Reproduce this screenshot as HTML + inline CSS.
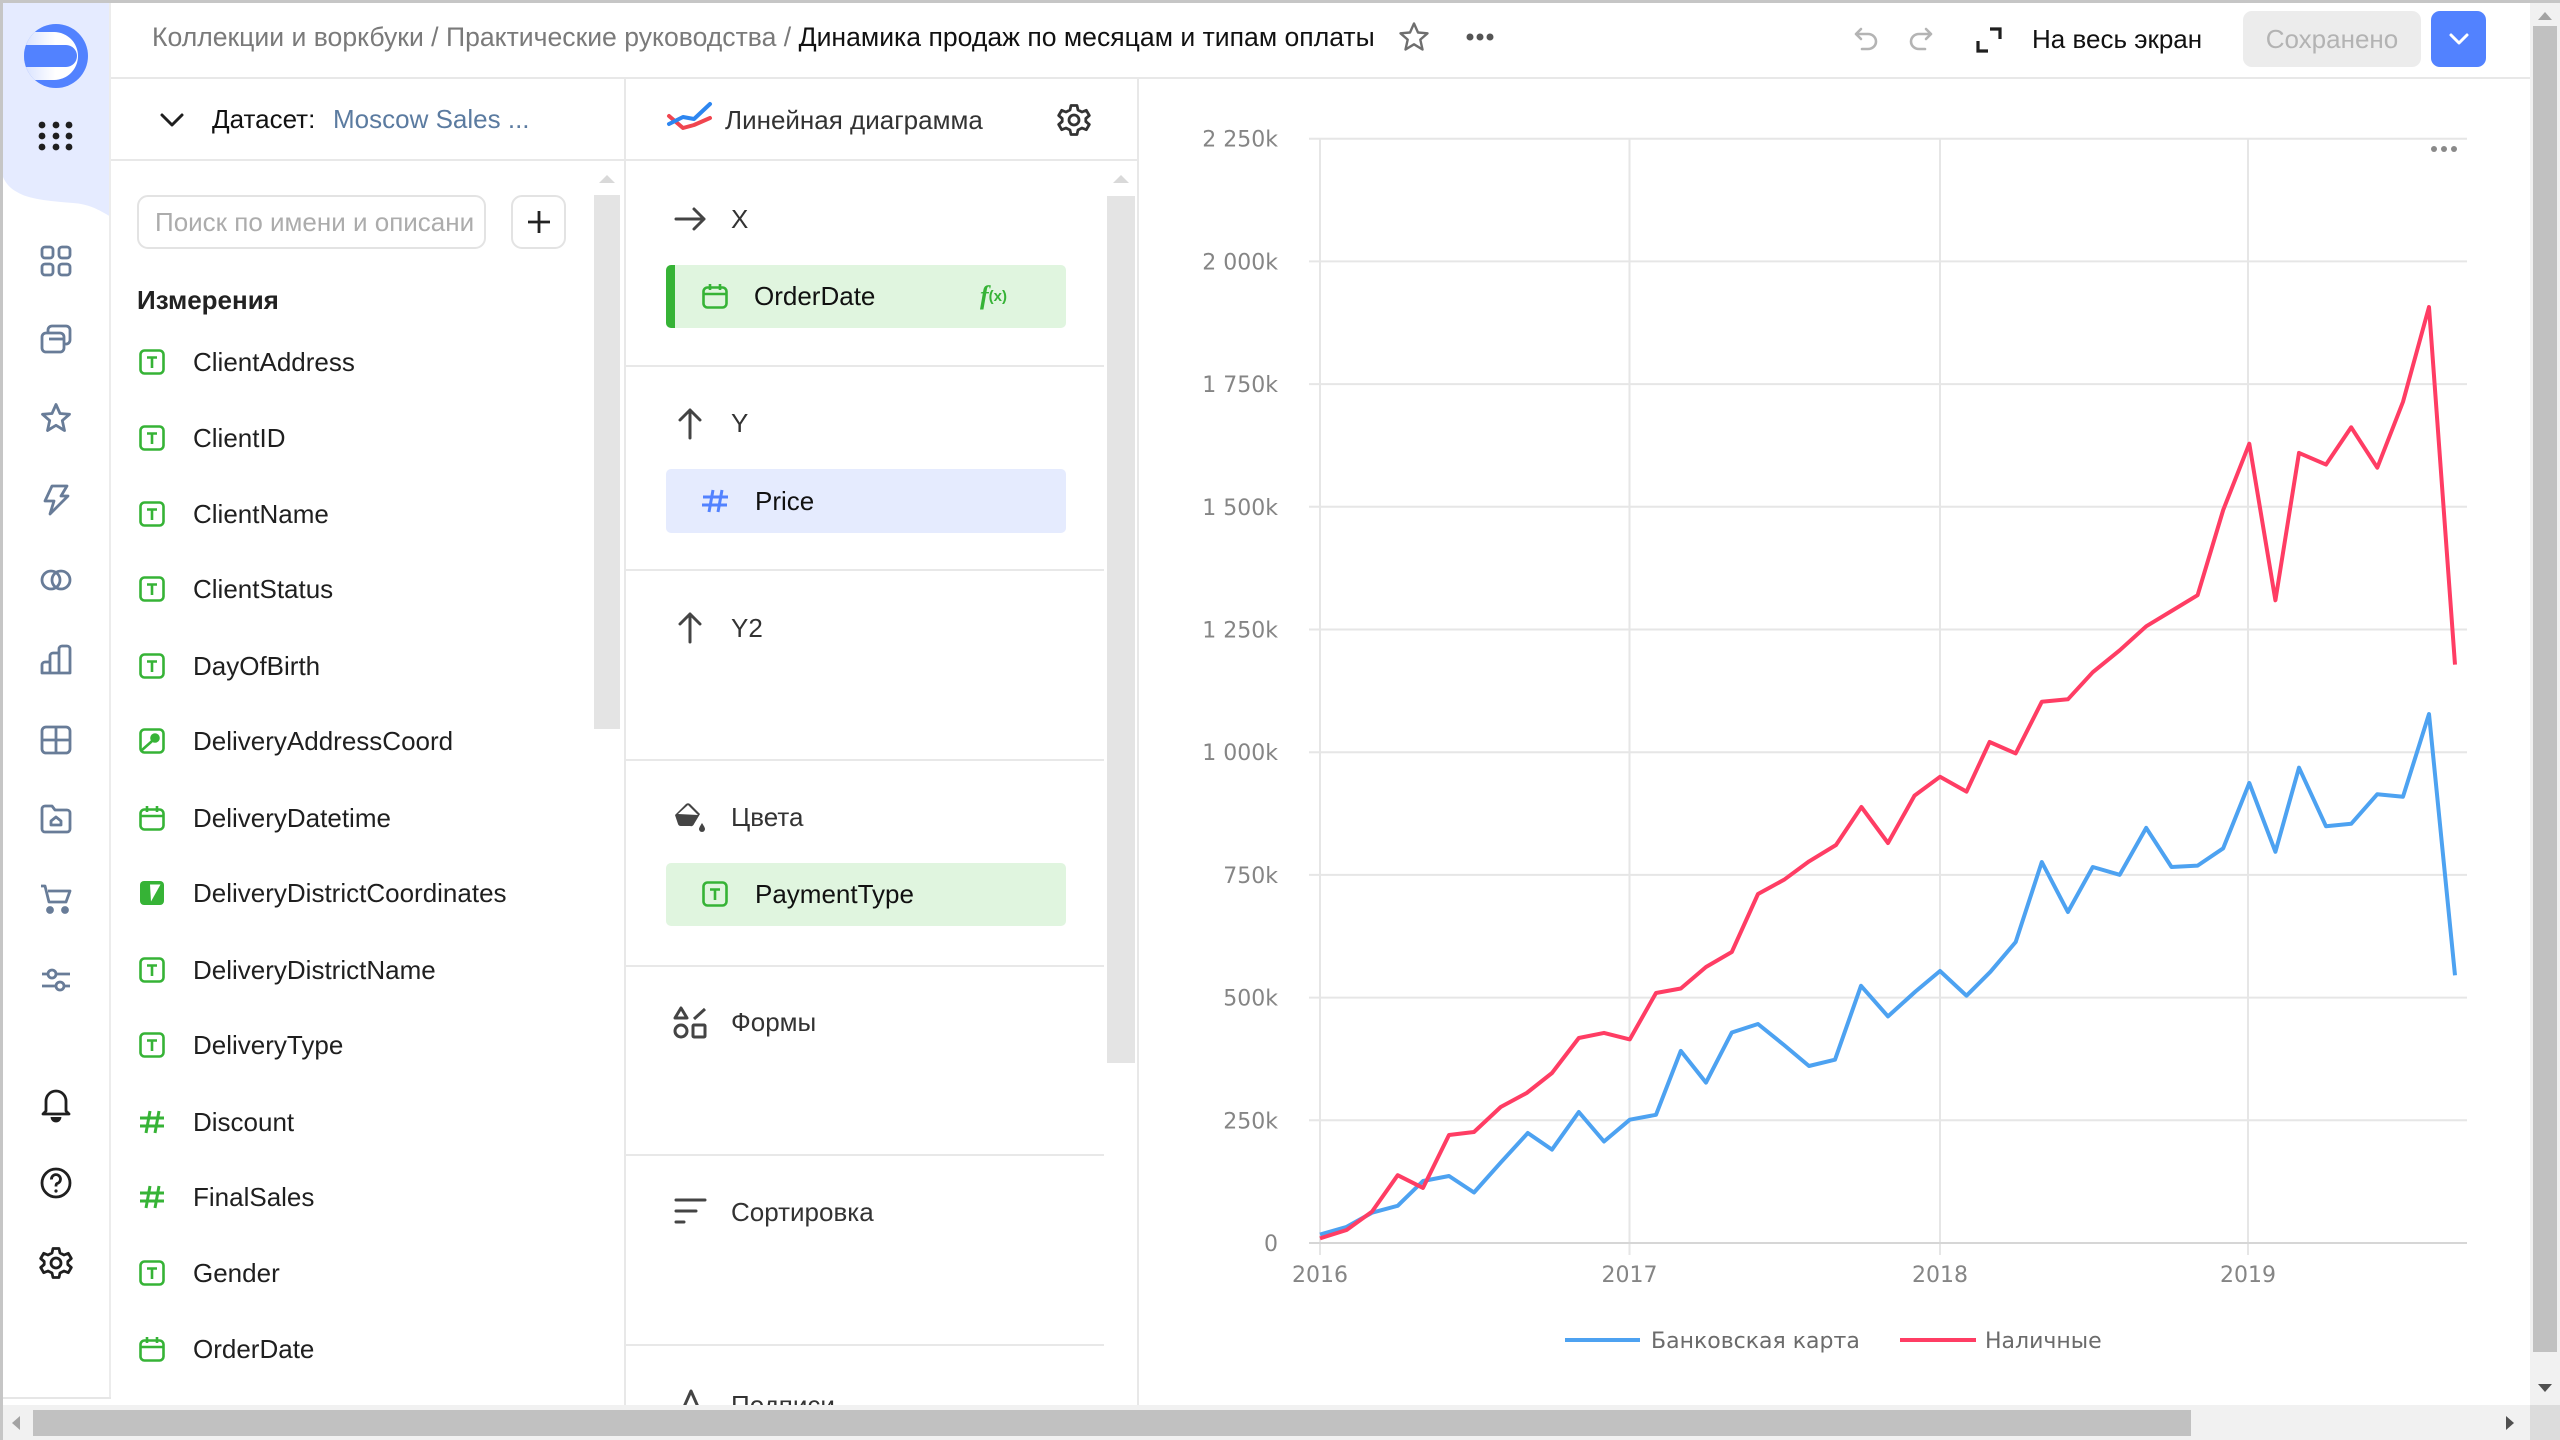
<!DOCTYPE html>
<html><head><meta charset="utf-8">
<style>
*{box-sizing:border-box;margin:0;padding:0}
html,body{width:2560px;height:1440px;overflow:hidden;background:#fff}
body{position:relative;font-family:"Liberation Sans","DejaVu Sans",sans-serif;color:#1f1f1f}
.a{position:absolute}
.t{position:absolute;white-space:nowrap;font-size:26px;line-height:30px}
.ln{position:absolute;background:#e8e8e8}
svg{position:absolute;overflow:visible}
</style></head><body>

<!-- frame -->
<div class="a" style="left:0;top:0;width:2560px;height:3px;background:#c6c6c6;z-index:20"></div>
<div class="a" style="left:0;top:0;width:3px;height:1440px;background:#c6c6c6;z-index:20"></div>

<!-- left nav -->
<svg style="left:3px;top:3px" width="108" height="230" viewBox="0 0 108 230"><path d="M0 0 H108 V214 C95 206 85 201 70 200 C45 198 25 196 14 189 C8 186 3 181 0 174 Z" fill="#e5ebff"/></svg>
<div class="ln" style="left:109px;top:3px;width:2px;height:1396px;background:#ececec"></div>
<div class="ln" style="left:3px;top:1397px;width:108px;height:2px;background:#e6e6e6"></div>

<svg style="left:24px;top:24px" width="64" height="64" viewBox="0 0 64 64">
<defs><clipPath id="lc"><circle cx="32" cy="32" r="32"/></clipPath>
<linearGradient id="lg" x1="0" x2="1" y1="0" y2="0"><stop offset="0" stop-color="#d6e0ff"/><stop offset="0.6" stop-color="#fff"/></linearGradient></defs>
<circle cx="32" cy="32" r="32" fill="#5282ff"/>
<g clip-path="url(#lc)"><path d="M-2 8 H30 A24 24 0 0 1 30 56 H-2 Z" fill="url(#lg)"/><path d="M-2 21 H42 A11 11 0 0 1 42 43 H-2 Z" fill="#5282ff"/></g>
</svg>
<svg style="left:38px;top:118px" width="36" height="36" viewBox="0 0 36 36" fill="#1f1f1f">
<circle cx="4" cy="7" r="3.4"/><circle cx="18" cy="7" r="3.4"/><circle cx="31" cy="7" r="3.4"/>
<circle cx="4" cy="18" r="3.4"/><circle cx="18" cy="18" r="3.4"/><circle cx="31" cy="18" r="3.4"/>
<circle cx="4" cy="29" r="3.4"/><circle cx="18" cy="29" r="3.4"/><circle cx="31" cy="29" r="3.4"/>
</svg>

<!-- nav icons -->
<svg style="left:40px;top:245px" width="32" height="32" viewBox="0 0 32 32" fill="none" stroke="#687c98" stroke-width="2.8"><rect x="2" y="2" width="11" height="11" rx="3"/><rect x="19" y="2" width="11" height="11" rx="3"/><rect x="2" y="19" width="11" height="11" rx="3"/><rect x="19" y="19" width="11" height="11" rx="3"/></svg>
<svg style="left:40px;top:324px" width="32" height="32" viewBox="0 0 32 32" fill="none" stroke="#687c98" stroke-width="2.8" stroke-linejoin="round"><path d="M8 8 V6 A4 4 0 0 1 12 2 H26 A4 4 0 0 1 30 6 V16 A4 4 0 0 1 26 20 H24"/><rect x="2" y="9" width="22" height="19" rx="4" fill="#fff"/><path d="M9 15 H24"/></svg>
<svg style="left:40px;top:402px" width="32" height="32" viewBox="0 0 32 32" fill="none" stroke="#687c98" stroke-width="2.8" stroke-linejoin="round"><path d="M16 2.5 L20 11.5 L29.5 12.3 L22.3 18.6 L24.5 28.5 L16 23.3 L7.5 28.5 L9.7 18.6 L2.5 12.3 L12 11.5 Z"/></svg>
<svg style="left:40px;top:484px" width="32" height="32" viewBox="0 0 32 32" fill="none" stroke="#687c98" stroke-width="2.8" stroke-linejoin="round"><path d="M12 2 H27 L21 12 H28 L10 30 L14 17 H5 Z"/></svg>
<svg style="left:40px;top:564px" width="32" height="32" viewBox="0 0 32 32" fill="none" stroke="#687c98" stroke-width="2.8"><circle cx="11" cy="16" r="9"/><circle cx="21" cy="16" r="9"/></svg>
<svg style="left:40px;top:644px" width="32" height="32" viewBox="0 0 32 32" fill="none" stroke="#687c98" stroke-width="2.8" stroke-linejoin="round"><path d="M2 29 V21 A3 3 0 0 1 5 18 H10 V12 A3 3 0 0 1 13 9 H19 V5 A3 3 0 0 1 22 2 H27 A3 3 0 0 1 30 5 V29 Z M10 18 V29 M19 9 V29"/></svg>
<svg style="left:40px;top:724px" width="32" height="32" viewBox="0 0 32 32" fill="none" stroke="#687c98" stroke-width="2.8"><rect x="2" y="3" width="28" height="26" rx="4"/><path d="M2 16 H30 M16 3 V29"/></svg>
<svg style="left:40px;top:803px" width="32" height="32" viewBox="0 0 32 32" fill="none" stroke="#687c98" stroke-width="2.8" stroke-linejoin="round"><path d="M2 6 A3 3 0 0 1 5 3 H12 L15 7 H27 A3 3 0 0 1 30 10 V26 A3 3 0 0 1 27 29 H5 A3 3 0 0 1 2 26 Z"/><path d="M11 22 V18 L16 14 L21 18 V22 Z"/></svg>
<svg style="left:40px;top:883px" width="32" height="32" viewBox="0 0 32 32" fill="none" stroke="#687c98" stroke-width="2.8" stroke-linejoin="round"><path d="M1 3 H5 L9 19 H26 L30 8 H8"/><circle cx="10" cy="27" r="2.5" fill="#687c98"/><circle cx="25" cy="27" r="2.5" fill="#687c98"/></svg>
<svg style="left:40px;top:964px" width="32" height="32" viewBox="0 0 32 32" fill="none" stroke="#687c98" stroke-width="2.8"><path d="M2 10 H8 M16 10 H30 M2 22 H16 M24 22 H30"/><circle cx="12" cy="10" r="4"/><circle cx="20" cy="22" r="4"/></svg>
<svg style="left:40px;top:1087px" width="32" height="34" viewBox="0 0 32 34" fill="none" stroke="#1f1f1f" stroke-width="2.8" stroke-linejoin="round"><path d="M6 24 V14 A10 10 0 0 1 26 14 V24 L29 27 H3 Z"/><path d="M12 30 A4 4 0 0 0 20 30" fill="#1f1f1f"/></svg>
<svg style="left:40px;top:1167px" width="32" height="32" viewBox="0 0 32 32" fill="none" stroke="#1f1f1f" stroke-width="2.8"><circle cx="16" cy="16" r="14"/><path d="M11.5 12.5 A4.5 4.5 0 1 1 17 16.5 C16 17 16 18 16 19.5"/><circle cx="16" cy="24" r="1.6" fill="#1f1f1f" stroke="none"/></svg>
<svg style="left:39px;top:1246px" width="34" height="34" viewBox="0 0 34 34" fill="none" stroke="#1f1f1f" stroke-width="2.8" stroke-linejoin="round"><path d="M14 2.5 H20 L21 7 L25 9 L29.3 7.3 L32.3 12.5 L28.8 15.5 V18.5 L32.3 21.5 L29.3 26.7 L25 25 L21 27 L20 31.5 H14 L13 27 L9 25 L4.7 26.7 L1.7 21.5 L5.2 18.5 V15.5 L1.7 12.5 L4.7 7.3 L9 9 L13 7 Z"/><circle cx="17" cy="17" r="5"/></svg>

<!-- header -->
<div class="ln" style="left:111px;top:77px;width:2419px;height:2px"></div>
<div class="t" style="left:152px;top:22px;color:#7a7a7a;font-size:26.6px">Коллекции и воркбуки / Практические руководства / <span style="color:#111">Динамика продаж по месяцам и типам оплаты</span></div>
<svg style="left:1398px;top:21px" width="32" height="32" viewBox="0 0 32 32" fill="none" stroke="#6e6e6e" stroke-width="2.4" stroke-linejoin="round"><path d="M16 2.5 L20 11.5 L29.5 12.3 L22.3 18.6 L24.5 28.5 L16 23.3 L7.5 28.5 L9.7 18.6 L2.5 12.3 L12 11.5 Z"/></svg>
<svg style="left:1466px;top:32px" width="28" height="10" viewBox="0 0 28 10" fill="#555"><circle cx="4" cy="5" r="3.5"/><circle cx="14" cy="5" r="3.5"/><circle cx="24" cy="5" r="3.5"/></svg>
<svg style="left:1853px;top:26px" width="26" height="26" viewBox="0 0 26 26" fill="none" stroke="#b4b4b4" stroke-width="2.6" stroke-linecap="round" stroke-linejoin="round"><path d="M8 3 L3 8 L8 13 M3 8 H15 A8 7.5 0 0 1 15 23 H9"/></svg>
<svg style="left:1908px;top:26px" width="26" height="26" viewBox="0 0 26 26" fill="none" stroke="#b4b4b4" stroke-width="2.6" stroke-linecap="round" stroke-linejoin="round"><path d="M18 3 L23 8 L18 13 M23 8 H11 A8 7.5 0 0 0 11 23 H17"/></svg>
<svg style="left:1976px;top:27px" width="26" height="26" viewBox="0 0 26 26" fill="none" stroke="#1f1f1f" stroke-width="3.2"><path d="M2 14 V24 H12 M14 2 H24 V12"/></svg>
<div class="t" style="left:2032px;top:24px;color:#111">На весь экран</div>
<div class="a" style="left:2243px;top:11px;width:178px;height:56px;background:#ececec;border-radius:9px;color:#b3b3b3;font-size:26px;line-height:56px;text-align:center">Сохранено</div>
<div class="a" style="left:2431px;top:11px;width:55px;height:56px;background:#5282ff;border-radius:9px"></div>
<svg style="left:2448px;top:31px" width="22" height="16" viewBox="0 0 22 16" fill="none" stroke="#fff" stroke-width="3" stroke-linecap="round" stroke-linejoin="round"><path d="M3 4 L11 12 L19 4"/></svg>

<!-- panel dividers -->
<div class="ln" style="left:111px;top:159px;width:1027px;height:2px"></div>
<div class="ln" style="left:624px;top:79px;width:2px;height:1328px"></div>
<div class="ln" style="left:1137px;top:79px;width:2px;height:1328px"></div>

<!-- dataset panel -->
<svg style="left:159px;top:111px" width="26" height="18" viewBox="0 0 26 18" fill="none" stroke="#1f1f1f" stroke-width="3" stroke-linecap="round" stroke-linejoin="round"><path d="M3 4 L13 14 L23 4"/></svg>
<div class="t" style="left:212px;top:104px;color:#111">Датасет:</div>
<div class="t" style="left:333px;top:104px;color:#5b7ba0">Moscow Sales ...</div>

<div class="a" style="left:137px;top:195px;width:349px;height:54px;border:2px solid #e3e3e3;border-radius:11px;overflow:hidden"><div class="t" style="left:16px;top:10px;color:#acacac">Поиск по имени и описани</div></div>
<div class="a" style="left:511px;top:195px;width:55px;height:54px;border:2px solid #e3e3e3;border-radius:11px"></div>
<svg style="left:527px;top:210px" width="24" height="24" viewBox="0 0 24 24" stroke="#222" stroke-width="2.8"><path d="M12 1 V23 M1 12 H23"/></svg>
<div class="a" style="left:594px;top:195px;width:26px;height:534px;background:#e4e4e4"></div>
<svg style="left:599px;top:174px" width="16" height="10" viewBox="0 0 16 10"><path d="M0 9 L8 1 L16 9 Z" fill="#d9d9d9"/></svg>

<div class="t" style="left:137px;top:285px;font-weight:bold;color:#222">Измерения</div>

<!-- field list -->
<svg style="left:139px;top:349px" width="26" height="26" viewBox="0 0 26 26" fill="none" stroke="#36b336" stroke-width="2.6"><rect x="1.5" y="1.5" width="23" height="23" rx="4"/><path d="M8 8.5 H18 M13 8.5 V19"/></svg>
<div class="t" style="left:193px;top:347px">ClientAddress</div>
<svg style="left:139px;top:425px" width="26" height="26" viewBox="0 0 26 26" fill="none" stroke="#36b336" stroke-width="2.6"><rect x="1.5" y="1.5" width="23" height="23" rx="4"/><path d="M8 8.5 H18 M13 8.5 V19"/></svg>
<div class="t" style="left:193px;top:423px">ClientID</div>
<svg style="left:139px;top:501px" width="26" height="26" viewBox="0 0 26 26" fill="none" stroke="#36b336" stroke-width="2.6"><rect x="1.5" y="1.5" width="23" height="23" rx="4"/><path d="M8 8.5 H18 M13 8.5 V19"/></svg>
<div class="t" style="left:193px;top:499px">ClientName</div>
<svg style="left:139px;top:576px" width="26" height="26" viewBox="0 0 26 26" fill="none" stroke="#36b336" stroke-width="2.6"><rect x="1.5" y="1.5" width="23" height="23" rx="4"/><path d="M8 8.5 H18 M13 8.5 V19"/></svg>
<div class="t" style="left:193px;top:574px">ClientStatus</div>
<svg style="left:139px;top:653px" width="26" height="26" viewBox="0 0 26 26" fill="none" stroke="#36b336" stroke-width="2.6"><rect x="1.5" y="1.5" width="23" height="23" rx="4"/><path d="M8 8.5 H18 M13 8.5 V19"/></svg>
<div class="t" style="left:193px;top:651px">DayOfBirth</div>
<svg style="left:139px;top:728px" width="26" height="26" viewBox="0 0 26 26" fill="none" stroke="#36b336" stroke-width="2.6"><rect x="1.5" y="1.5" width="23" height="23" rx="4"/><path d="M3 22 L12 14 L16 10" /><circle cx="16" cy="10" r="3.5" fill="#36b336"/></svg>
<div class="t" style="left:193px;top:726px">DeliveryAddressCoord</div>
<svg style="left:139px;top:805px" width="26" height="26" viewBox="0 0 26 26" fill="none" stroke="#36b336" stroke-width="2.6"><rect x="1.5" y="4.5" width="23" height="20" rx="4"/><path d="M1.5 11 H24.5 M8 1 V7 M18 1 V7"/></svg>
<div class="t" style="left:193px;top:803px">DeliveryDatetime</div>
<svg style="left:139px;top:880px" width="26" height="26" viewBox="0 0 26 26"><rect x="1" y="1" width="24" height="24" rx="4" fill="#36b336"/><path d="M11 4.5 H21.5 L12 21.5 Z" fill="#fff"/></svg>
<div class="t" style="left:193px;top:878px">DeliveryDistrictCoordinates</div>
<svg style="left:139px;top:957px" width="26" height="26" viewBox="0 0 26 26" fill="none" stroke="#36b336" stroke-width="2.6"><rect x="1.5" y="1.5" width="23" height="23" rx="4"/><path d="M8 8.5 H18 M13 8.5 V19"/></svg>
<div class="t" style="left:193px;top:955px">DeliveryDistrictName</div>
<svg style="left:139px;top:1032px" width="26" height="26" viewBox="0 0 26 26" fill="none" stroke="#36b336" stroke-width="2.6"><rect x="1.5" y="1.5" width="23" height="23" rx="4"/><path d="M8 8.5 H18 M13 8.5 V19"/></svg>
<div class="t" style="left:193px;top:1030px">DeliveryType</div>
<svg style="left:139px;top:1109px" width="26" height="26" viewBox="0 0 26 26" fill="none" stroke="#36b336" stroke-width="3"><path d="M1 9 H25 M1 17 H25 M11 2 L7 24 M20 2 L16 24"/></svg>
<div class="t" style="left:193px;top:1107px">Discount</div>
<svg style="left:139px;top:1184px" width="26" height="26" viewBox="0 0 26 26" fill="none" stroke="#36b336" stroke-width="3"><path d="M1 9 H25 M1 17 H25 M11 2 L7 24 M20 2 L16 24"/></svg>
<div class="t" style="left:193px;top:1182px">FinalSales</div>
<svg style="left:139px;top:1260px" width="26" height="26" viewBox="0 0 26 26" fill="none" stroke="#36b336" stroke-width="2.6"><rect x="1.5" y="1.5" width="23" height="23" rx="4"/><path d="M8 8.5 H18 M13 8.5 V19"/></svg>
<div class="t" style="left:193px;top:1258px">Gender</div>
<svg style="left:139px;top:1336px" width="26" height="26" viewBox="0 0 26 26" fill="none" stroke="#36b336" stroke-width="2.6"><rect x="1.5" y="4.5" width="23" height="20" rx="4"/><path d="M1.5 11 H24.5 M8 1 V7 M18 1 V7"/></svg>
<div class="t" style="left:193px;top:1334px">OrderDate</div>

<!-- middle panel -->
<svg style="left:666px;top:100px" width="48" height="34" viewBox="666 100 48 34" fill="none" stroke-width="4" stroke-linecap="round" stroke-linejoin="round"><path d="M669 116 L683 128 L694 125 L710 118" stroke="#f0454f"/><path d="M669 124 L683 117 L694 119 L710 104" stroke="#2d86f0"/></svg>
<div class="t" style="left:725px;top:105px;color:#333">Линейная диаграмма</div>
<svg style="left:1057px;top:103px" width="34" height="34" viewBox="0 0 34 34" fill="none" stroke="#333" stroke-width="2.8" stroke-linejoin="round"><path d="M14 2.5 H20 L21 7 L25 9 L29.3 7.3 L32.3 12.5 L28.8 15.5 V18.5 L32.3 21.5 L29.3 26.7 L25 25 L21 27 L20 31.5 H14 L13 27 L9 25 L4.7 26.7 L1.7 21.5 L5.2 18.5 V15.5 L1.7 12.5 L4.7 7.3 L9 9 L13 7 Z"/><circle cx="17" cy="17" r="5"/></svg>

<div class="a" style="left:1107px;top:196px;width:28px;height:867px;background:#e4e4e4"></div>
<svg style="left:1113px;top:174px" width="16" height="10" viewBox="0 0 16 10"><path d="M0 9 L8 1 L16 9 Z" fill="#d9d9d9"/></svg>

<svg style="left:674px;top:207px" width="32" height="24" viewBox="0 0 32 24" fill="none" stroke="#444" stroke-width="3" stroke-linecap="round" stroke-linejoin="round"><path d="M2 12 H30 M20 2 L30 12 L20 22"/></svg>
<div class="t" style="left:731px;top:204px;color:#333">X</div>
<div class="a" style="left:666px;top:265px;width:400px;height:63px;background:#e0f5df;border-radius:5px;overflow:hidden"><div class="a" style="left:0;top:0;width:9px;height:63px;background:#36b336"></div></div>
<svg style="left:702px;top:283px" width="26" height="26" viewBox="0 0 26 26" fill="none" stroke="#36b336" stroke-width="2.6"><rect x="1.5" y="4.5" width="23" height="20" rx="4"/><path d="M1.5 11 H24.5 M8 1 V7 M18 1 V7"/></svg>
<div class="t" style="left:754px;top:281px;color:#111">OrderDate</div>
<div class="t" style="left:980px;top:281px;color:#36b336;font-style:italic;font-weight:bold;font-family:'Liberation Serif',serif;font-size:26px">f<span style="font-size:15px;font-style:normal;font-family:'Liberation Sans',sans-serif;vertical-align:3px">(x)</span></div>
<div class="ln" style="left:626px;top:365px;width:478px;height:2px"></div>

<svg style="left:678px;top:408px" width="24" height="32" viewBox="0 0 24 32" fill="none" stroke="#444" stroke-width="3" stroke-linecap="round" stroke-linejoin="round"><path d="M12 2 V30 M2 12 L12 2 L22 12"/></svg>
<div class="t" style="left:731px;top:408px;color:#333">Y</div>
<div class="a" style="left:666px;top:469px;width:400px;height:64px;background:#e5ebfe;border-radius:5px"></div>
<svg style="left:701px;top:488px" width="28" height="26" viewBox="0 0 28 26" fill="none" stroke="#5282ff" stroke-width="3"><path d="M2 9 H27 M1 17 H26 M12 2 L8 24 M21 2 L17 24"/></svg>
<div class="t" style="left:755px;top:486px;color:#111">Price</div>
<div class="ln" style="left:626px;top:569px;width:478px;height:2px"></div>

<svg style="left:678px;top:612px" width="24" height="32" viewBox="0 0 24 32" fill="none" stroke="#444" stroke-width="3" stroke-linecap="round" stroke-linejoin="round"><path d="M12 2 V30 M2 12 L12 2 L22 12"/></svg>
<div class="t" style="left:731px;top:613px;color:#333">Y2</div>
<div class="ln" style="left:626px;top:759px;width:478px;height:2px"></div>

<svg style="left:672px;top:799px" width="36" height="36" viewBox="0 0 36 36"><path d="M3 16 L14 5 A3 3 0 0 1 18 5 L28 15 L22 25 A3 3 0 0 1 18 27 H9 A3 3 0 0 1 6 25 Z" fill="#444"/><path d="M6 15 L16 6 L26 16 Z" fill="#fff"/><path d="M30 24 C32 27 33 29 33 30 A3 3 0 0 1 27 30 C27 29 28 27 30 24 Z" fill="#444"/></svg>
<div class="t" style="left:731px;top:802px;color:#333">Цвета</div>
<div class="a" style="left:666px;top:863px;width:400px;height:63px;background:#e0f5df;border-radius:5px"></div>
<svg style="left:702px;top:881px" width="26" height="26" viewBox="0 0 26 26" fill="none" stroke="#36b336" stroke-width="2.6"><rect x="1.5" y="1.5" width="23" height="23" rx="4"/><path d="M8 8.5 H18 M13 8.5 V19"/></svg>
<div class="t" style="left:755px;top:879px;color:#111">PaymentType</div>
<div class="ln" style="left:626px;top:965px;width:478px;height:2px"></div>

<svg style="left:672px;top:1005px" width="36" height="36" viewBox="0 0 36 36" fill="none" stroke="#444" stroke-width="3" stroke-linejoin="round"><path d="M9 3 L15 13 H3 Z"/><circle cx="9" cy="26" r="6"/><rect x="21" y="20" width="12" height="12" rx="1"/><path d="M22 14 L33 4"/></svg>
<div class="t" style="left:731px;top:1007px;color:#333">Формы</div>
<div class="ln" style="left:626px;top:1154px;width:478px;height:2px"></div>

<svg style="left:674px;top:1196px" width="34" height="30" viewBox="0 0 34 30" fill="none" stroke="#444" stroke-width="3" stroke-linecap="round"><path d="M2 4 H31 M2 15 H22 M2 26 H10"/></svg>
<div class="t" style="left:731px;top:1197px;color:#333">Сортировка</div>
<div class="ln" style="left:626px;top:1344px;width:478px;height:2px"></div>

<svg style="left:676px;top:1388px" width="30" height="30" viewBox="0 0 30 30" fill="none" stroke="#444" stroke-width="3" stroke-linejoin="round"><path d="M4 28 L15 3 L26 28 M8 19 H22"/></svg>
<div class="t" style="left:731px;top:1390px;color:#333">Подписи</div>

<!-- chart -->
<svg style="left:0;top:0" width="2560" height="1440" viewBox="0 0 2560 1440">
<g stroke="#e6e6e6" stroke-width="2">
<line x1="1309" y1="138.7" x2="2467" y2="138.7"/>
<line x1="1309" y1="261.4" x2="2467" y2="261.4"/>
<line x1="1309" y1="384.1" x2="2467" y2="384.1"/>
<line x1="1309" y1="506.8" x2="2467" y2="506.8"/>
<line x1="1309" y1="629.5" x2="2467" y2="629.5"/>
<line x1="1309" y1="752.2" x2="2467" y2="752.2"/>
<line x1="1309" y1="874.9" x2="2467" y2="874.9"/>
<line x1="1309" y1="997.6" x2="2467" y2="997.6"/>
<line x1="1309" y1="1120.3" x2="2467" y2="1120.3"/>
<line x1="1320" y1="138.7" x2="1320" y2="1255"/>
<line x1="1629.5" y1="138.7" x2="1629.5" y2="1255"/>
<line x1="1940" y1="138.7" x2="1940" y2="1255"/>
<line x1="2248" y1="138.7" x2="2248" y2="1255"/>
</g>
<line x1="1309" y1="1243" x2="2467" y2="1243" stroke="#d6d6d6" stroke-width="2"/>
<g font-family="DejaVu Sans, sans-serif" font-size="22" fill="#858585" text-anchor="end">
<text x="1278" y="146.7">2 250k</text>
<text x="1278" y="269.4">2 000k</text>
<text x="1278" y="392.1">1 750k</text>
<text x="1278" y="514.8">1 500k</text>
<text x="1278" y="637.5">1 250k</text>
<text x="1278" y="760.2">1 000k</text>
<text x="1278" y="882.9">750k</text>
<text x="1278" y="1005.6">500k</text>
<text x="1278" y="1128.3">250k</text>
<text x="1278" y="1251">0</text>
</g>
<g font-family="DejaVu Sans, sans-serif" font-size="22" fill="#858585" text-anchor="middle">
<text x="1320" y="1282">2016</text>
<text x="1629.5" y="1282">2017</text>
<text x="1940" y="1282">2018</text>
<text x="2248" y="1282">2019</text>
</g>
<g fill="none" stroke-width="4" stroke-linejoin="round">
<polyline stroke="#4da2f1" points="1320,1234.5 1346.6,1226.9 1372,1212.7 1397.7,1205.8 1423,1181 1449,1176 1474,1192.5 1500.7,1162.6 1527.8,1133 1552,1149.6 1578.8,1112 1604,1141.5 1629.8,1119.7 1656,1114.8 1680.8,1050.9 1706,1082.6 1731.8,1032.5 1758,1024 1784,1045 1809,1066 1835,1059.7 1861,985.8 1888,1016.4 1915.5,991.5 1940,971 1966.5,995.7 1990.5,971.7 2015.7,942 2041.8,862 2067.9,912 2092.8,867 2119.7,874.8 2146.2,827.9 2171.5,867 2197.6,865.6 2223.2,848.3 2249.3,783 2275.4,851.8 2299,767.7 2326,826.3 2351.2,823.8 2377.3,794.2 2403,796.7 2429,714 2455,975.3"/>
<polyline stroke="#ff3d64" points="1320,1238.4 1346.6,1230 1372,1211.6 1397.7,1175.2 1423,1187.9 1449,1135 1474,1132 1500.7,1107 1526.7,1093 1552,1073 1578.8,1038 1604,1032.9 1629.8,1039.4 1656,993 1680.8,988.5 1706,967 1731.8,952 1758,894 1784,879.8 1809,861.4 1836,845 1861.4,807 1888,843 1914.5,795.6 1940,776.8 1966.5,791.6 1989.6,742 2015.7,753.4 2041.8,701.8 2067.9,699.3 2092.8,672.2 2119.7,650.3 2146.2,626.3 2171.5,611 2197.6,595.2 2223.2,510 2249.3,443.7 2275.4,600.3 2299,452.9 2326,464.6 2351.2,427.3 2377.3,467.7 2403,401.8 2429,307 2455,664.6"/>
</g>
<line x1="1565" y1="1340" x2="1640" y2="1340" stroke="#4da2f1" stroke-width="4"/>
<line x1="1900" y1="1340" x2="1976" y2="1340" stroke="#ff3d64" stroke-width="4"/>
<g font-family="DejaVu Sans, sans-serif" font-size="22" fill="#6b6b6b">
<text x="1651" y="1348">Банковская карта</text>
<text x="1985" y="1348">Наличные</text>
</g>
<g fill="#8a8a8a"><circle cx="2434" cy="149" r="3"/><circle cx="2444" cy="149" r="3"/><circle cx="2454" cy="149" r="3"/></g>
</svg>

<!-- scrollbars -->
<div class="a" style="left:2530px;top:3px;width:30px;height:1404px;background:#f1f1f1;z-index:10"></div>
<div class="a" style="left:2533px;top:26px;width:24px;height:1326px;background:#c1c1c1;z-index:11"></div>
<svg style="left:2538px;top:11px;z-index:11" width="14" height="10" viewBox="0 0 14 10"><path d="M0 9 L7 1 L14 9 Z" fill="#a3a3a3"/></svg>
<svg style="left:2538px;top:1383px;z-index:11" width="14" height="10" viewBox="0 0 14 10"><path d="M0 1 L7 9 L14 1 Z" fill="#505050"/></svg>
<div class="a" style="left:3px;top:1405px;width:2557px;height:35px;background:#f1f1f1;z-index:10"></div>
<div class="a" style="left:33px;top:1410px;width:2158px;height:26px;background:#c1c1c1;z-index:11"></div>
<svg style="left:11px;top:1416px;z-index:11" width="10" height="14" viewBox="0 0 10 14"><path d="M9 0 L1 7 L9 14 Z" fill="#a3a3a3"/></svg>
<svg style="left:2505px;top:1416px;z-index:11" width="10" height="14" viewBox="0 0 10 14"><path d="M1 0 L9 7 L1 14 Z" fill="#505050"/></svg>
<div class="a" style="left:2530px;top:1405px;width:30px;height:35px;background:#dcdcdc;z-index:11"></div>
</body></html>
